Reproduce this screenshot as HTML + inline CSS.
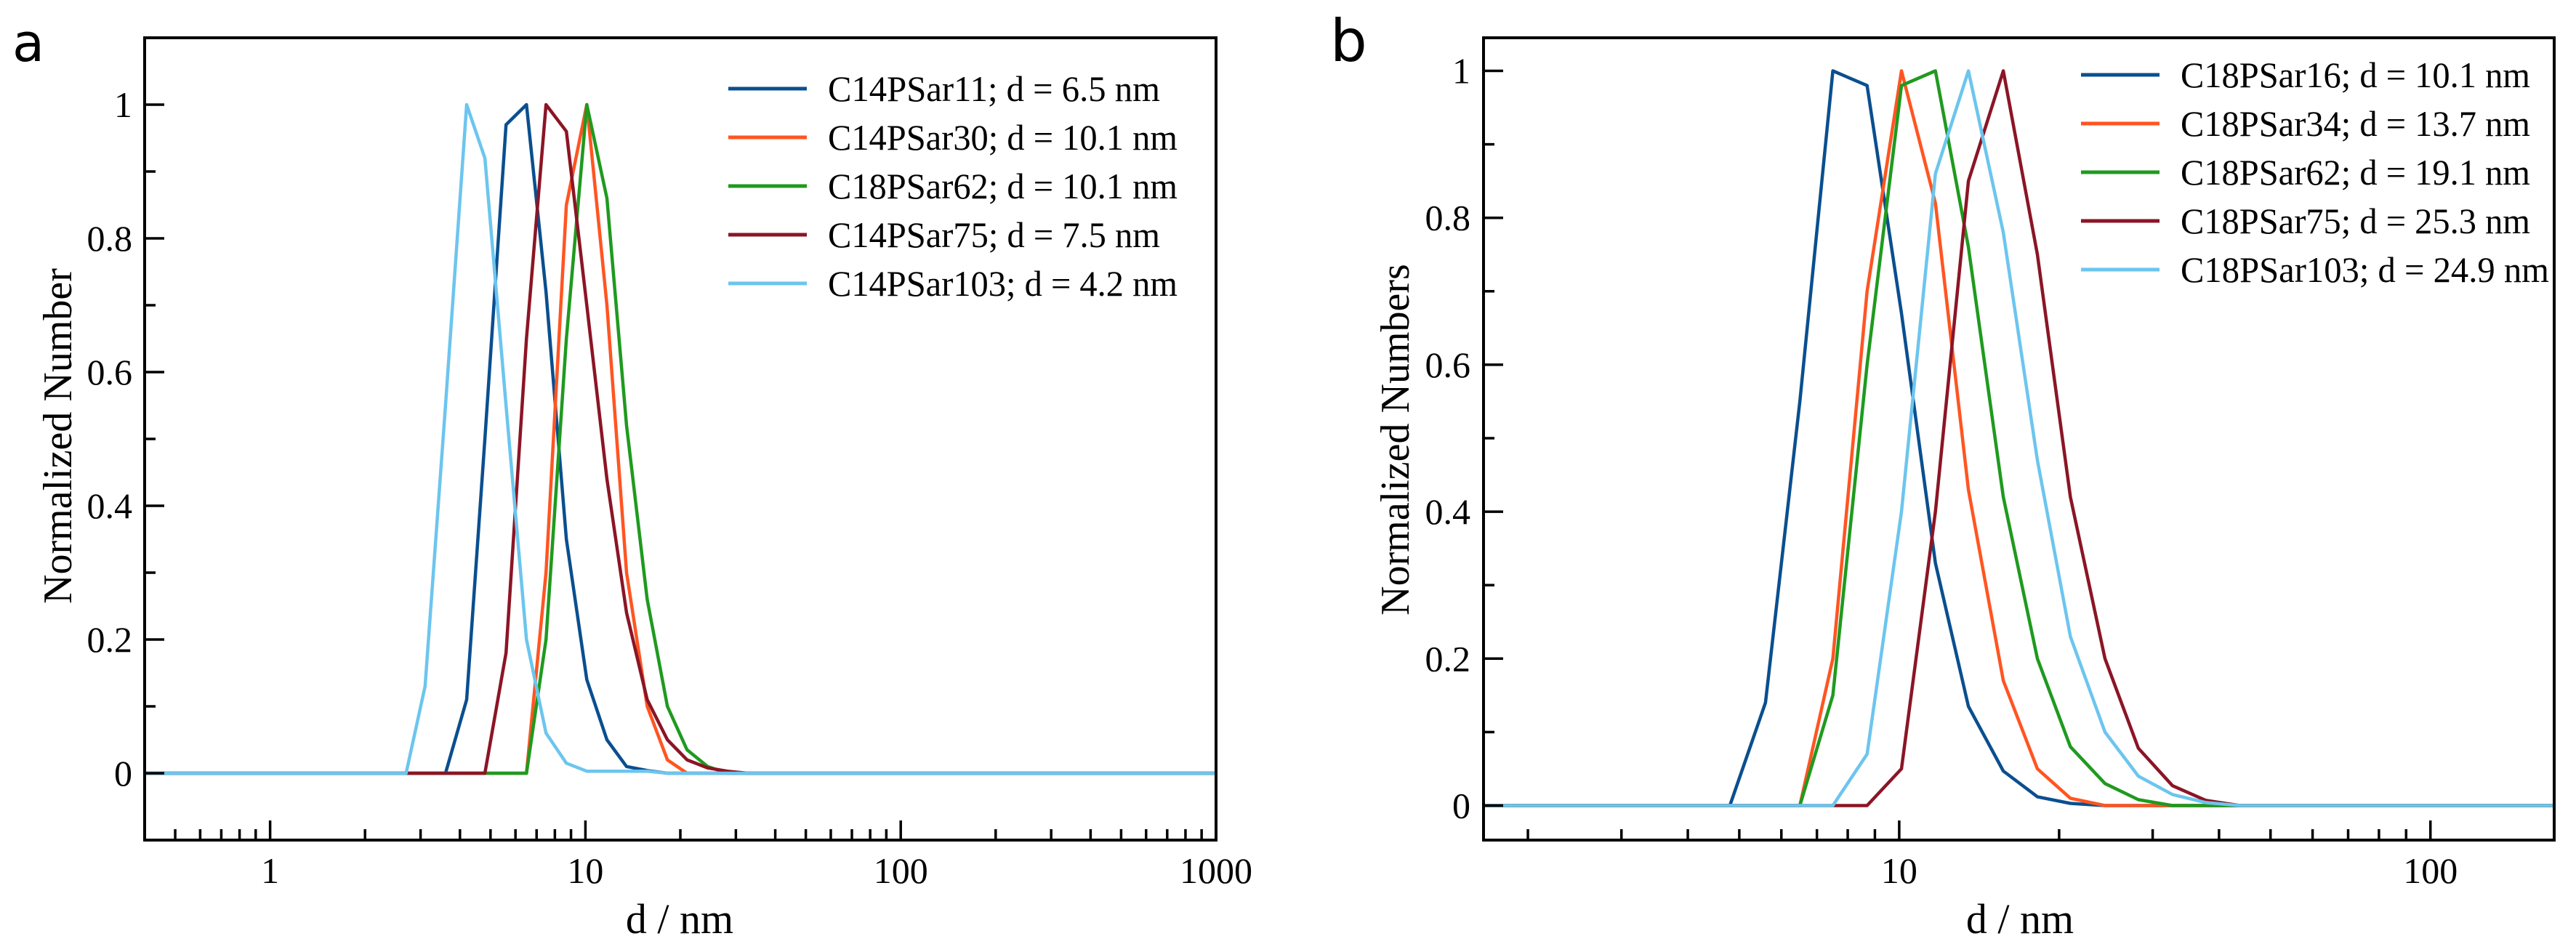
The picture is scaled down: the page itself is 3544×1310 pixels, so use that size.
<!DOCTYPE html>
<html><head><meta charset="utf-8"><style>
html,body{margin:0;padding:0;background:#fff;}
svg{display:block;}
text{font-family:"Liberation Serif",serif;fill:#000;}
</style></head><body>
<svg id="fig" width="3544" height="1310" viewBox="0 0 3544 1310" xmlns="http://www.w3.org/2000/svg">
<text x="17" y="84" style="font-family:'DejaVu Sans','Liberation Sans',sans-serif;font-size:72px">a</text>
<text x="1830" y="84" style="font-family:'DejaVu Sans','Liberation Sans',sans-serif;font-size:80px">b</text>
<g id="pa"></g>
<g id="pb"></g>
</svg>
<script>
// ---- Panel a data ----
const xA = [0.4, 2.7, 3.1, 3.6, 4.2, 4.8, 5.6, 6.5, 7.5, 8.7, 10.1, 11.7, 13.5, 15.7, 18.2, 21.0, 24.4, 28.2, 32.7, 1000];
const a_C14PSar11  = [0, 0, 0, 0, 0.11, 0.5, 0.97, 1, 0.72, 0.35, 0.14, 0.05, 0.01, 0.004, 0, 0, 0, 0, 0, 0];
const a_C14PSar30  = [0, 0, 0, 0, 0, 0, 0, 0, 0.3, 0.85, 1, 0.7, 0.3, 0.1, 0.02, 0, 0, 0, 0, 0];
const a_C18PSar62  = [0, 0, 0, 0, 0, 0, 0, 0, 0.2, 0.65, 1, 0.86, 0.52, 0.26, 0.1, 0.035, 0.01, 0, 0, 0];
const a_C14PSar75  = [0, 0, 0, 0, 0, 0, 0.18, 0.65, 1, 0.96, 0.7, 0.44, 0.24, 0.11, 0.05, 0.02, 0.008, 0.003, 0, 0];
const a_C14PSar103 = [0, 0, 0.13, 0.55, 1, 0.92, 0.55, 0.2, 0.06, 0.015, 0.003, 0.003, 0.003, 0.003, 0, 0, 0, 0, 0, 0];
const a_labels = ["C14PSar11; d = 6.5 nm","C14PSar30; d = 10.1 nm","C18PSar62; d = 10.1 nm","C14PSar75; d = 7.5 nm","C14PSar103; d = 4.2 nm"];
const a_yTicks = [0, 0.2, 0.4, 0.6, 0.8, 1];
const a_yTickLabels = ["0","0.2","0.4","0.6","0.8","1"];
const a_xTicks = [1, 10, 100, 1000];
const a_xTickLabels = ["1","10","100","1000"];

// ---- Panel b data ----
const xB = [1.65, 4.8, 5.6, 6.5, 7.5, 8.7, 10.1, 11.7, 13.5, 15.7, 18.2, 21.0, 24.4, 28.2, 32.7, 37.8, 43.8, 171];
const b_C18PSar16  = [0, 0, 0.14, 0.55, 1, 0.98, 0.67, 0.33, 0.135, 0.047, 0.012, 0.003, 0, 0, 0, 0, 0, 0];
const b_C18PSar34  = [0, 0, 0, 0, 0.2, 0.7, 1, 0.82, 0.43, 0.17, 0.05, 0.01, 0, 0, 0, 0, 0, 0];
const b_C18PSar62  = [0, 0, 0, 0, 0.15, 0.6, 0.98, 1, 0.76, 0.42, 0.2, 0.08, 0.03, 0.008, 0, 0, 0, 0];
const b_C18PSar75  = [0, 0, 0, 0, 0, 0, 0.05, 0.4, 0.85, 1, 0.75, 0.42, 0.2, 0.078, 0.027, 0.007, 0, 0];
const b_C18PSar103 = [0, 0, 0, 0, 0, 0.07, 0.4, 0.86, 1, 0.78, 0.47, 0.23, 0.1, 0.04, 0.015, 0.004, 0, 0];
const b_labels = ["C18PSar16; d = 10.1 nm","C18PSar34; d = 13.7 nm","C18PSar62; d = 19.1 nm","C18PSar75; d = 25.3 nm","C18PSar103; d = 24.9 nm"];
const b_yTicks = [0, 0.2, 0.4, 0.6, 0.8, 1];
const b_yTickLabels = ["0","0.2","0.4","0.6","0.8","1"];
const b_xTicks = [10, 100];
const b_xTickLabels = ["10","100"];

const colors = ["#0a4f8f","#ff5522","#1f9a1f","#8b1525","#6cc5ee"];
const NS = "http://www.w3.org/2000/svg";
function mk(parent, tag, attrs){const e=document.createElementNS(NS,tag);for(const k in attrs)e.setAttribute(k,attrs[k]);parent.appendChild(e);return e;}

function panel(g, cfg){
  const {L,R,T,B,xmin,xmax,ymin,ymax} = cfg;
  const sx = v => L + (Math.log10(v)-Math.log10(xmin))/(Math.log10(xmax)-Math.log10(xmin))*(R-L);
  const sy = v => B - (v-ymin)/(ymax-ymin)*(B-T);
  // series
  cfg.series.forEach((s,i)=>{
    const p = mk(g,"polyline",{points:cfg.x.map((xv,j)=>sx(xv).toFixed(1)+","+sy(s[j]).toFixed(1)).join(" "),fill:"none",stroke:colors[i],"stroke-width":4.5,"stroke-linejoin":"round"});
    
    
  });
  // y ticks
  for(let v=0; v<=1.0001; v+=0.1){
    const major = Math.abs(Math.round(v*10)%2)===0;
    const t = mk(g,"line",{x1:L,x2:L+(major?27:15),y1:sy(v),y2:sy(v),stroke:"#000","stroke-width":3.5});
    
    
  }
  cfg.yTicks.forEach((v,i)=>{
    const t = mk(g,"text",{x:cfg.yLabelX,y:sy(v)+17,"text-anchor":"end","font-size":50});
    t.textContent = cfg.yTickLabels[i];
    
    
  });
  // x ticks
  const d0 = Math.floor(Math.log10(xmin)), d1 = Math.ceil(Math.log10(xmax));
  for(let d=d0; d<=d1; d++){
    for(let m=1; m<10; m++){
      const v = m*Math.pow(10,d);
      if(v<xmin*0.999 || v>xmax*1.001) continue;
      const t = mk(g,"line",{x1:sx(v),x2:sx(v),y1:B,y2:B-(m===1?27:15),stroke:"#000","stroke-width":3.5});
      
      
    }
  }
  cfg.xTicks.forEach((v,i)=>{
    const t = mk(g,"text",{x:sx(v),y:1215,"text-anchor":"middle","font-size":50});
    t.textContent = cfg.xTickLabels[i];
    
    
  });
  // frame
  const f = mk(g,"rect",{x:L,y:T,width:R-L,height:B-T,fill:"none",stroke:"#000","stroke-width":4});
  
  
  // titles
  const xt = mk(g,"text",{x:cfg.xTitleX,y:1284,"text-anchor":"middle","font-size":58});
  xt.textContent = "d / nm";
  
  
  const yt = mk(g,"text",{x:0,y:0,"text-anchor":"middle","font-size":56,transform:"translate("+cfg.yTitleX+","+cfg.yTitleY+") rotate(-90)"});
  yt.textContent = cfg.yTitle;
  
  
  // legend
  cfg.labels.forEach((lab,i)=>{
    const y = cfg.legY + i*67;
    const ln = mk(g,"line",{x1:cfg.legX,x2:cfg.legX+108,y1:y,y2:y,stroke:colors[i],"stroke-width":5});
    
    
    const tx = mk(g,"text",{x:cfg.legX+137,y:y+17,"font-size":50,textLength:cfg.legW[i],lengthAdjust:"spacingAndGlyphs"});
    tx.textContent = lab;
    
    
  });
}

panel(document.getElementById("pa"),{L:199,R:1673,T:52,B:1156,xmin:0.4,xmax:1000,ymin:-0.1,ymax:1.1,
  x:xA, series:[a_C14PSar11,a_C14PSar30,a_C18PSar62,a_C14PSar75,a_C14PSar103], labels:a_labels,
  yTicks:a_yTicks, yTickLabels:a_yTickLabels, xTicks:a_xTicks, xTickLabels:a_xTickLabels,
  yLabelX:182, xTitleX:935, yTitleX:98, yTitleY:600, yTitle:"Normalized Number",
  legX:1002, legY:122, legW:[457,481,481,457,481]});
panel(document.getElementById("pb"),{L:2041,R:3514,T:52,B:1156,xmin:1.65,xmax:171,ymin:-0.047,ymax:1.045,
  x:xB, series:[b_C18PSar16,b_C18PSar34,b_C18PSar62,b_C18PSar75,b_C18PSar103], labels:b_labels,
  yTicks:b_yTicks, yTickLabels:b_yTickLabels, xTicks:b_xTicks, xTickLabels:b_xTickLabels,
  yLabelX:2023, xTitleX:2779, yTitleX:1938, yTitleY:605, yTitle:"Normalized Numbers",
  legX:2863, legY:103, legW:[481,481,481,481,507]});
</script>
</body></html>
